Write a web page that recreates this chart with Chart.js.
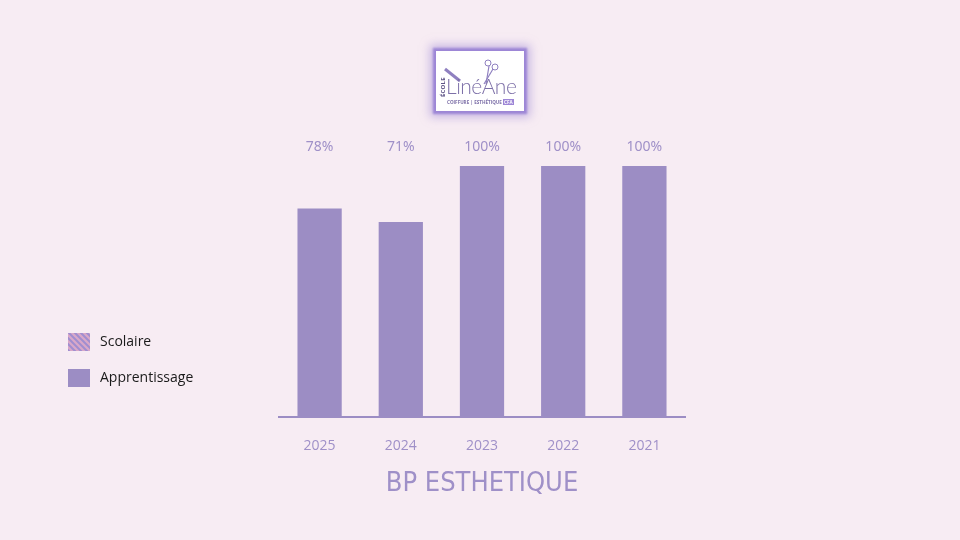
<!DOCTYPE html>
<html>
<head>
<meta charset="utf-8">
<script src="https://cdn.jsdelivr.net/npm/chart.js@4"></script>
<style>
  html, body { margin:0; padding:0; background:#f7ecf3; }
  #wrap { position:relative; width:960px; height:540px; overflow:hidden; }
  #chart { position:absolute; left:0; top:0; }
  #logo { position:absolute; left:436px; top:51px; width:88px; height:60px; background:#fff;
          box-shadow:0 0 2px 3px #9d86d6, 0 0 9px 6px rgba(157,134,214,0.55); font-family:"Open Sans",sans-serif; color:#8a7bb8; }
  #logo .ecole { position:absolute; left:3px; font-size:6px; font-weight:bold; transform:rotate(-90deg); transform-origin:left top; letter-spacing:0.2px; color:#5f5587; top:46px; }
  #logo .name { position:absolute; left:10px; top:22px; font-size:21px; font-weight:300; font-family:"Lato",sans-serif; color:#7d70a8; letter-spacing:-0.5px; }
  #logo .sub { position:absolute; left:11px; top:48px; font-size:4.6px; font-weight:bold; color:#7d70a8; white-space:nowrap; }
  #logo .cfa { background:#9d86d6; color:#fff; padding:0 1px; }
</style>
</head>
<body>
<div id="wrap">
  <canvas id="chart" width="960" height="540"></canvas>
  <div id="logo">
    <svg width="88" height="60" style="position:absolute;left:0;top:0">
      <line x1="9" y1="18" x2="24" y2="30" stroke="#8f80c0" stroke-width="3"/>
      <circle cx="52" cy="12" r="3" fill="none" stroke="#8f80c0" stroke-width="1"/>
      <circle cx="59" cy="16" r="3" fill="none" stroke="#8f80c0" stroke-width="1"/>
      <line x1="53" y1="15" x2="50" y2="33" stroke="#8f80c0" stroke-width="1.2"/>
      <line x1="57" y1="18" x2="48" y2="33" stroke="#8f80c0" stroke-width="1.2"/>
    </svg>
    <div class="ecole">ÉCOLE</div>
    <div class="name">LinéAne</div>
    <div class="sub">COIFFURE | ESTHÉTIQUE <span class="cfa">CFA</span></div>
  </div>
</div>
<script>
var years = ['2025', '2024', '2023', '2022', '2021'];
var scolaire = [null, null, null, null, null];
var apprentissage = [78, 71, 100, 100, 100];
var percentLabels = ['78%', '71%', '100%', '100%', '100%'];
var chartTitle = 'BP ESTHETIQUE';

var purple = '#9c8dc4';
var textPurple = '#9f90c8';

function hatch() {
	var c = document.createElement('canvas');
	c.width = 6; c.height = 6;
	var x = c.getContext('2d');
	x.fillStyle = '#d9a8c8';
	x.fillRect(0, 0, 6, 6);
	x.strokeStyle = '#a08ed0';
	x.lineWidth = 2;
	x.beginPath();
	x.moveTo(-3, -3); x.lineTo(9, 9);
	x.moveTo(-3, 3); x.lineTo(3, 9);
	x.moveTo(3, -3); x.lineTo(9, 3);
	x.stroke();
	return x.createPattern(c, 'repeat');
}

// percent labels above the bars, all on one line
var topLabels = {
	id: 'topLabels',
	afterDatasetsDraw: function(chart) {
		var ctx = chart.ctx;
		var meta = chart.getDatasetMeta(1);
		ctx.save();
		ctx.font = '14px "Noto Sans", sans-serif';
		ctx.fillStyle = textPurple;
		ctx.textAlign = 'center';
		ctx.textBaseline = 'middle';
		for (var i = 0; i < meta.data.length; i++) {
			ctx.fillText(percentLabels[i], meta.data[i].x, chart.chartArea.top - 19);
		}
		ctx.restore();
	}
};

// legend on the left side
var sideLegend = {
	id: 'sideLegend',
	afterDraw: function(chart) {
		var ctx = chart.ctx;
		ctx.save();
		ctx.font = '14px "Open Sans", sans-serif';
		ctx.textBaseline = 'middle';
		for (var i = 0; i < chart.data.datasets.length; i++) {
			var ds = chart.data.datasets[i];
			var y = 333 + i * 36;
			ctx.fillStyle = ds.backgroundColor;
			ctx.fillRect(68, y, 22, 18);
			ctx.fillStyle = '#1a1a1a';
			ctx.fillText(ds.label, 100, y + 9);
		}
		ctx.restore();
	}
};

new Chart(document.getElementById('chart'), {
	type: 'bar',
	data: {
		labels: years,
		datasets: [
			{ label: 'Scolaire', data: scolaire, backgroundColor: hatch(), grouped: false, base: -30 },
			{ label: 'Apprentissage', data: apprentissage, backgroundColor: purple, grouped: false, base: -30 }
		]
	},
	options: {
		responsive: false,
		animation: false,
		layout: { padding: { left: 279, right: 275, top: 166, bottom: 31 } },
		datasets: { bar: { barPercentage: 0.545, categoryPercentage: 1 } },
		scales: {
			x: {
				grid: { display: false, drawTicks: false },
				border: { color: purple, width: 2 },
				ticks: { color: textPurple, padding: 20, font: { family: '"Open Sans", sans-serif', size: 14 } }
			},
			y: { display: false, min: -30, max: 100 }
		},
		plugins: {
			legend: { display: false },
			tooltip: { enabled: false },
			title: {
				display: true,
				position: 'bottom',
				text: chartTitle,
				color: textPurple,
				padding: { top: -4, bottom: 12 },
				font: { family: '"Liberation Sans Narrow", "DejaVu Sans Condensed", sans-serif', size: 27, weight: 'normal', lineHeight: 1 }
			}
		}
	},
	plugins: [topLabels, sideLegend]
});
</script>
</body>
</html>
